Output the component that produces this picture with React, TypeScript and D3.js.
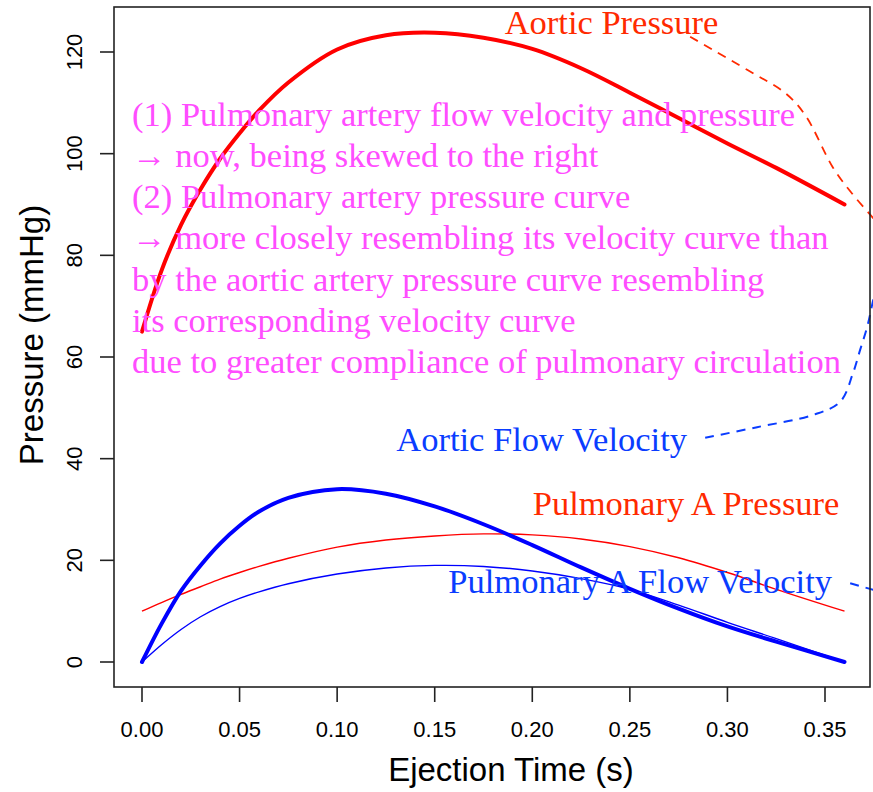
import React from "react";
import * as d3 from "d3";

// ejection time (s)
const times = [0, 0.01, 0.02, 0.03, 0.04, 0.05, 0.06, 0.075, 0.1, 0.125, 0.15, 0.175, 0.2, 0.225, 0.25, 0.275, 0.3, 0.325, 0.36];
const aorticPressure = [65, 77, 86, 93, 99, 104, 108.5, 114, 120.5, 123.3, 123.8, 122.8, 120.6, 116.8, 112, 107, 102, 97.2, 90];
const aorticFlow = [0, 7.5, 14, 19, 23.3, 26.8, 29.6, 32.3, 34, 33.1, 30.6, 27.1, 23, 18.6, 14.4, 10.5, 7, 4, 0];
const pulmPressure = [10, 11.7, 13.3, 14.8, 16.3, 17.6, 18.8, 20.4, 22.6, 24, 24.8, 25.2, 25, 24.2, 22.7, 20.5, 17.6, 14.3, 10];
const pulmFlow = [0, 3.4, 6.4, 8.9, 10.9, 12.5, 13.8, 15.4, 17.3, 18.5, 19, 18.8, 17.9, 16.4, 14.3, 11.2, 7.8, 4.6, 0];

const xTicks = [0, 0.05, 0.1, 0.15, 0.2, 0.25, 0.3, 0.35];
const yTicks = [0, 20, 40, 60, 80, 100, 120];

// dashed pointer curves [t, value]
const aorticPressurePointer = [[0.2809, 123], [0.3101, 116.5], [0.3300, 111.8], [0.3400, 107.5], [0.3542, 97.2], [0.3644, 91.9], [0.3747, 87.3], [0.3834, 83]];
const aorticFlowPointer = [[0.2886, 44.1], [0.3152, 46.2], [0.3439, 48.6], [0.3578, 51.2], [0.3644, 56.9], [0.368, 61.4], [0.3716, 65.9], [0.3747, 71.2], [0.3783, 77.1]];
const pulmFlowPointer = [[0.3629, 15.5], [0.3783, 13.8]];

const labels = [
  { text: "Aortic Pressure", t: 0.2406, v: 123.5, color: "#ff2a00" },
  { text: "Aortic Flow Velocity", t: 0.2048, v: 41.5, color: "#0a3cff" },
  { text: "Pulmonary A Pressure", t: 0.2788, v: 28.9, color: "#ff2a00" },
  { text: "Pulmonary A Flow Velocity", t: 0.2553, v: 13.6, color: "#0a3cff" },
];

const notes = [
  "(1) Pulmonary artery flow velocity and pressure",
  "\u2192 now, being skewed to the right",
  "(2) Pulmonary artery pressure curve",
  "\u2192 more closely resembling its velocity curve than",
  "by the aortic artery pressure curve resembling",
  "its corresponding velocity curve",
  "due to greater compliance of pulmonary circulation",
];

const W = 873;
const H = 792;
const box = { left: 114, right: 870, top: 7, bottom: 687 };

export default function App() {
  const x = d3.scaleLinear().domain([0, 0.35]).range([142, 825]);
  const y = d3.scaleLinear().domain([0, 120]).range([662, 52]);

  const series = (vals: number[]) =>
    d3
      .line<number>()
      .x((_, i) => x(times[i]))
      .y((d) => y(d))
      .curve(d3.curveCatmullRom)(vals) || "";

  const pointer = (pts: number[][]) =>
    d3
      .line<number[]>()
      .x((d) => x(d[0]))
      .y((d) => y(d[1]))
      .curve(d3.curveCatmullRom)(pts) || "";

  const sans = "'Liberation Sans', Arial, Helvetica, sans-serif";
  const serif = "'Liberation Serif', 'Times New Roman', Times, serif";

  return (
    <svg
      width={W}
      height={H}
      style={{ position: "absolute", left: 0, top: 0, background: "#fff" }}
    >
      <rect width={W} height={H} fill="#fff" />

      {/* curves */}
      <path d={series(pulmPressure)} fill="none" stroke="#ff0000" strokeWidth={1.4} />
      <path d={series(pulmFlow)} fill="none" stroke="#0000ff" strokeWidth={1.4} />
      <path d={series(aorticPressure)} fill="none" stroke="#ff0000" strokeWidth={4} strokeLinecap="round" />
      <path d={series(aorticFlow)} fill="none" stroke="#0000ff" strokeWidth={4} strokeLinecap="round" />

      {/* dashed pointers */}
      <path d={pointer(aorticPressurePointer)} fill="none" stroke="#ff2a00" strokeWidth={1.8} strokeDasharray="9,7" />
      <path d={pointer(aorticFlowPointer)} fill="none" stroke="#0a3cff" strokeWidth={2} strokeDasharray="9,7" />
      <path d={pointer(pulmFlowPointer)} fill="none" stroke="#0a3cff" strokeWidth={2} strokeDasharray="9,7" />

      {/* box */}
      <rect
        x={box.left}
        y={box.top}
        width={box.right - box.left}
        height={box.bottom - box.top}
        fill="none"
        stroke="#222"
        strokeWidth={1.6}
      />

      {/* x axis */}
      {xTicks.map((t) => (
        <g key={t}>
          <line x1={x(t)} x2={x(t)} y1={box.bottom} y2={box.bottom + 15} stroke="#222" strokeWidth={1.6} />
          <text x={x(t)} y={737} textAnchor="middle" fontFamily={sans} fontSize={22}>
            {t.toFixed(2)}
          </text>
        </g>
      ))}
      <text x={511} y={781} textAnchor="middle" fontFamily={sans} fontSize={33}>
        Ejection Time (s)
      </text>

      {/* y axis */}
      {yTicks.map((v) => (
        <g key={v}>
          <line x1={box.left - 14} x2={box.left} y1={y(v)} y2={y(v)} stroke="#222" strokeWidth={1.6} />
          <text
            transform={`translate(82,${y(v)}) rotate(-90)`}
            textAnchor="middle"
            fontFamily={sans}
            fontSize={22}
          >
            {v}
          </text>
        </g>
      ))}
      <text
        transform="translate(43,335) rotate(-90)"
        textAnchor="middle"
        fontFamily={sans}
        fontSize={33}
      >
        Pressure (mmHg)
      </text>

      {/* labels */}
      {labels.map((l) => (
        <text
          key={l.text}
          x={x(l.t)}
          y={y(l.v)}
          textAnchor="middle"
          fontFamily={serif}
          fontSize={34.5}
          fill={l.color}
        >
          {l.text}
        </text>
      ))}

      {/* notes */}
      {notes.map((n, i) => (
        <text
          key={i}
          x={x(-0.0051)}
          y={y(105.5) + i * 41.2}
          fontFamily={serif}
          fontSize={34.5}
          fill="#ff4dff"
        >
          {n}
        </text>
      ))}
    </svg>
  );
}
